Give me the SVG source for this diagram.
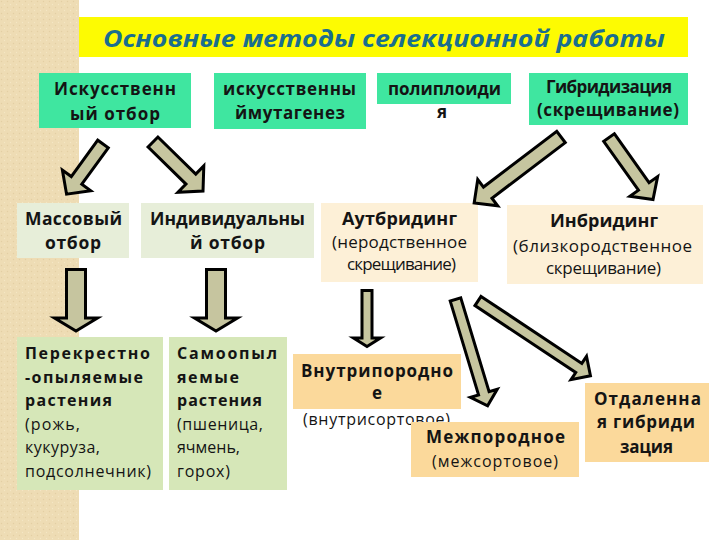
<svg xmlns="http://www.w3.org/2000/svg" width="720" height="540" viewBox="0 0 720 540">
<style>
  text { font-family: "Open Sans", "Noto Sans", "DejaVu Sans", sans-serif; fill: #141414; }
  .b { font-weight: 700; }
  .r { font-weight: 400; }
  .t17 { font-size: 17px; }
  .t16 { font-size: 16px; }
  .t18 { font-size: 18px; }
  .t19 { font-size: 17.5px; }
  .title { font-size: 24px; font-weight: 700; font-style: italic; fill: #1a6e8e; }
  .top { fill: #3fe6a0; }
  .pg { fill: #e7eed9; }
  .peach { fill: #fdf0d7; }
  .lg { fill: #d6e7b8; }
  .or { fill: #fbd99b; }
  .arr { fill: #c6c59f; stroke: #000; stroke-width: 3; stroke-linejoin: miter; }
</style>
<defs>
  <pattern id="tex" width="6" height="6" patternUnits="userSpaceOnUse">
    <rect width="6" height="6" fill="#eedcb4"/>
    <circle cx="1.5" cy="1.5" r="0.7" fill="#e3cfa3"/>
    <circle cx="4.5" cy="4.5" r="0.7" fill="#f5e6c4"/>
  </pattern>
  <path id="vArrowBig" d="M0,-9.5 H48.5 V-21.5 L61.5,0 L48.5,21.5 V9.5 H0 Z"/>
</defs>

<rect width="720" height="540" fill="#ffffff"/>
<rect x="0" y="0" width="79" height="540" fill="url(#tex)"/>

<g id="title">
  <rect x="79" y="17" width="609" height="40" fill="#fdfb02"/>
  <text class="title" x="103" y="47" textLength="562" lengthAdjust="spacingAndGlyphs">Основные методы селекционной работы</text>
</g>

<g id="node-iskusstvenny-otbor">
  <rect class="top" x="39" y="73" width="152" height="55"/>
  <text class="b t17" x="54" y="95" textLength="122">Искусственн</text>
  <text class="b t17" x="70" y="120" textLength="90">ый отбор</text>
</g>
<g id="node-mutagenez">
  <rect class="top" x="214" y="73" width="152" height="56"/>
  <text class="b t17" x="223" y="95" textLength="133">искусственны</text>
  <text class="b t17" x="235" y="119" textLength="110">ймутагенез</text>
</g>
<g id="node-poliploidiya">
  <rect class="top" x="377" y="73" width="134" height="31"/>
  <text class="b t17" x="388" y="95" textLength="113">полиплоиди</text>
  <text class="b t17" x="442" y="118" text-anchor="middle">я</text>
</g>
<g id="node-gibridizaciya">
  <rect class="top" x="529" y="73" width="159" height="52"/>
  <text class="b t17" x="546" y="93" textLength="126">Гибридизация</text>
  <text class="b t17" x="537" y="116" textLength="142">(скрещивание)</text>
</g>

<g id="node-massovy">
  <rect class="pg" x="17" y="203" width="112" height="55"/>
  <text class="b t19" x="25" y="225" textLength="97">Массовый</text>
  <text class="b t19" x="45" y="249" textLength="56">отбор</text>
</g>
<g id="node-individualny">
  <rect class="pg" x="141" y="203" width="173" height="55"/>
  <text class="b t19" x="150" y="225" textLength="155">Индивидуальны</text>
  <text class="b t19" x="190" y="249" textLength="75">й отбор</text>
</g>
<g id="node-autbriding">
  <rect class="peach" x="321" y="203" width="157" height="79"/>
  <text class="b t18" x="342" y="225" textLength="115">Аутбридинг</text>
  <text class="r t17" x="332" y="248" textLength="135">(неродственное</text>
  <text class="r t17" x="347" y="270" textLength="109">скрещивание)</text>
</g>
<g id="node-inbriding">
  <rect class="peach" x="507" y="205" width="196" height="79"/>
  <text class="b t18" x="550" y="227" textLength="108">Инбридинг</text>
  <text class="r t17" x="513" y="252" textLength="179">(близкородственное</text>
  <text class="r t17" x="546" y="274" textLength="115">скрещивание)</text>
</g>

<g id="node-perekrestno">
  <rect class="lg" x="17" y="337" width="146" height="153"/>
  <text class="b t16" x="25" y="359" textLength="125">Перекрестно</text>
  <text class="b t16" x="25" y="383" textLength="118">-опыляемые</text>
  <text class="b t16" x="25" y="406" textLength="87">растения</text>
  <text class="r t16" x="25" y="430" textLength="55">(рожь,</text>
  <text class="r t16" x="25" y="453" textLength="75">кукуруза,</text>
  <text class="r t16" x="25" y="477" textLength="126">подсолнечник)</text>
</g>
<g id="node-samoopylyaemye">
  <rect class="lg" x="169" y="337" width="118" height="153"/>
  <text class="b t16" x="177" y="359" textLength="100">Самоопыл</text>
  <text class="b t16" x="177" y="383" textLength="62">яемые</text>
  <text class="b t16" x="177" y="406" textLength="85">растения</text>
  <text class="r t16" x="177" y="430" textLength="86">(пшеница,</text>
  <text class="r t16" x="177" y="453" textLength="63">ячмень,</text>
  <text class="r t16" x="177" y="477" textLength="53">горох)</text>
</g>

<g id="node-vnutriporodnoe">
  <rect class="or" x="293" y="354" width="168" height="55"/>
  <text class="b t17" x="301" y="377" textLength="152">Внутрипородно</text>
  <text class="b t17" x="377" y="399" text-anchor="middle">е</text>
  <text class="r t16" x="303" y="425" textLength="147">(внутрисортовое)</text>
</g>
<g id="node-mezhporodnoe">
  <rect class="or" x="411" y="422" width="168" height="55"/>
  <text class="b t17" x="426" y="443" textLength="139">Межпородное</text>
  <text class="r t16" x="432" y="467" textLength="126">(межсортовое)</text>
</g>
<g id="node-otdalennaya">
  <rect class="or" x="585" y="383" width="124" height="79"/>
  <text class="b t17" x="594" y="405" textLength="107">Отдаленна</text>
  <text class="b t17" x="597" y="428" textLength="98">я гибриди</text>
  <text class="b t17" x="620" y="453" textLength="53">зация</text>
</g>

<g id="connectors">
  <path class="arr" transform="translate(103,144) rotate(126)" d="M0,-6.5 H45 V-17.5 L62,0 L45,17.5 V6.5 H0 Z"/>
  <path class="arr" transform="translate(153,142) rotate(44.4)" d="M0,-7 H53 V-18.5 L70,0 L53,18.5 V7 H0 Z"/>
  <use class="arr" href="#vArrowBig" transform="translate(76,269.5) rotate(90)"/>
  <use class="arr" href="#vArrowBig" transform="translate(216,269.5) rotate(90)"/>
  <path class="arr" transform="translate(561,137) rotate(142.8)" d="M0,-7 H92 V-16.5 L109,0 L92,16.5 V7 H0 Z"/>
  <path class="arr" transform="translate(609,137.5) rotate(54.6)" d="M0,-6.5 H60 V-17 L76,0 L60,17 V6.5 H0 Z"/>
  <path class="arr" transform="translate(367,290.5) rotate(90)" d="M0,-5 H47.5 V-13.5 L56,0 L47.5,13.5 V5 H0 Z"/>
  <path class="arr" transform="translate(455.5,299.5) rotate(73.2)" d="M0,-5.5 H98 V-14 L111,0 L98,14 V5.5 H0 Z"/>
  <path class="arr" transform="translate(478,301) rotate(33.6)" d="M0,-5.5 H121 V-14 L135,0 L121,14 V5.5 H0 Z"/>
</g>
</svg>
